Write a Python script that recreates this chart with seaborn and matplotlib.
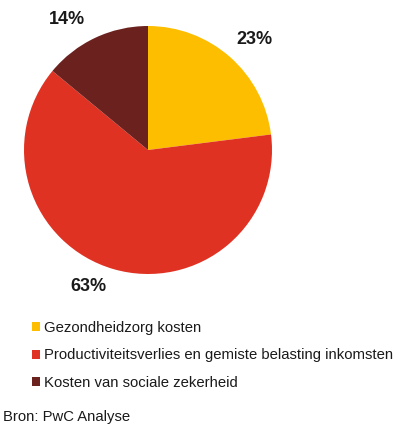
import matplotlib
matplotlib.use('Agg')
import matplotlib.pyplot as plt
import seaborn as sns

categories = ['Gezondheidzorg kosten',
              'Productiviteitsverlies en gemiste belasting inkomsten',
              'Kosten van sociale zekerheid']
shares = [23, 63, 14]
colors = ['#FDBE00', '#E03222', '#6B211E']
source = 'Bron: PwC Analyse'

# where each percentage label sits, relative to the pie (radius = 1)
label_pos = [(0.86, 0.89), (-0.48, -1.10), (-0.65, 1.05)]

sns.set_theme(style='white')
plt.rcParams['font.family'] = ['Liberation Sans', 'DejaVu Sans']

fig = plt.figure(figsize=(4, 4.25), dpi=100)
# pie axes: centre at (148,150) px, radius 124 px
ax = fig.add_axes([24 / 400, (425 - 274) / 425, 248 / 400, 248 / 425])
wedges, texts = ax.pie(shares, colors=colors, startangle=90, counterclock=False,
                       labels=[f'{v}%' for v in shares],
                       wedgeprops=dict(linewidth=0),
                       textprops=dict(fontsize=13, fontweight='bold', color='#1a1a1a'))
for t, pos in zip(texts, label_pos):
    t.set_position(pos)
    t.set_ha('center')
    t.set_va('center')
ax.set_xlim(-1, 1)
ax.set_ylim(-1, 1)
ax.set_aspect('equal')

leg = fig.legend(wedges, categories, loc='upper left',
                 bbox_to_anchor=(32 / 400, 1 - 321 / 425), frameon=False,
                 fontsize=10.7, handlelength=0.55, handleheight=0.55,
                 handletextpad=0.25, labelspacing=0.9, borderaxespad=0,
                 borderpad=0)
for t in leg.get_texts():
    t.set_color('#1a1a1a')

fig.text(3 / 400, 1 - 417 / 425, source, fontsize=10.7, color='#1a1a1a',
         ha='left', va='center')

fig.savefig('out.png', dpi=100)
